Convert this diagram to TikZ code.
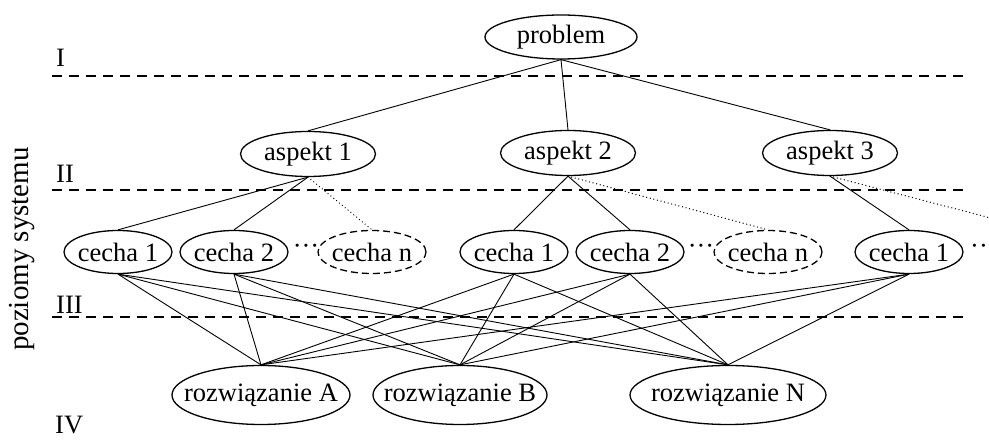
\documentclass[tikz,border=0pt]{standalone}
\usepackage{fontspec}
\setmainfont{Liberation Serif}
\usetikzlibrary{shapes.geometric}
\newcommand{\zb}[1]{\makebox[0pt]{#1}}
\tikzset{
  ell/.style={ellipse, draw, line width=1.3pt, inner sep=0pt, font=\fontsize{26.5}{31}\selectfont},
  dashell/.style={ell, dash pattern=on 7pt off 4pt},
  conn/.style={line width=0.9pt},
  dotconn/.style={line width=1.3pt, line cap=round, dash pattern=on 0.1pt off 3.6pt},
  levelline/.style={line width=1.2pt, dash pattern=on 10pt off 7pt},
  lvl/.style={anchor=west, inner sep=0pt, font=\fontsize{26.5}{31}\selectfont},
  dotsnode/.style={inner sep=0pt, font=\fontsize{26.5}{31}\selectfont},
}
\begin{document}
\begin{tikzpicture}[x=1pt,y=-1pt]
\useasboundingbox (0,0) rectangle (989,443);
\fill[white] (0,0) rectangle (989,443);
% level lines
\coordinate (l1a) at (52,76);  \coordinate (l1b) at (967,76);
\coordinate (l2a) at (52,190); \coordinate (l2b) at (967,190);
\coordinate (l3a) at (52,317); \coordinate (l3b) at (967,317);
\draw[levelline] (l1a) -- (l1b);
\draw[levelline] (l2a) -- (l2b);
\draw[levelline] (l3a) -- (l3b);
% level labels
\node[lvl] (lI) at (56,58) {I};
\node[lvl] (lII) at (56,174) {II};
\node[lvl] (lIII) at (56,305) {III};
\node[lvl] (lIV) at (55,425) {IV};
\node[inner sep=0pt, rotate=90, font=\fontsize{29}{34}\selectfont] (side) at (22,249) {poziomy systemu};
% nodes
\node[ell, minimum width=152pt, minimum height=44pt] (prob) at (561,37) {\zb{problem}};
\node[ell, minimum width=135pt, minimum height=45pt] (a1) at (308,154) {\zb{aspekt 1}};
\node[ell, minimum width=135pt, minimum height=45pt] (a2) at (568,153) {\zb{aspekt 2}};
\node[ell, minimum width=135pt, minimum height=45pt] (a3) at (830,153) {\zb{aspekt 3}};
\node[ell, minimum width=108pt, minimum height=43pt] (c11) at (118,252) {\zb{cecha 1}};
\node[ell, minimum width=108pt, minimum height=43pt] (c12) at (234,252) {\zb{cecha 2}};
\node[dotsnode] (d1) at (306,249) {···};
\node[dashell, minimum width=108pt, minimum height=43pt] (c1n) at (372,252) {\zb{cecha n}};
\node[ell, minimum width=108pt, minimum height=43pt] (c21) at (514,252) {\zb{cecha 1}};
\node[ell, minimum width=108pt, minimum height=43pt] (c22) at (630,252) {\zb{cecha 2}};
\node[dotsnode] (d2) at (701,249) {···};
\node[dashell, minimum width=108pt, minimum height=43pt] (c2n) at (768,252) {\zb{cecha n}};
\node[ell, minimum width=108pt, minimum height=43pt] (c31) at (909,252) {\zb{cecha 1}};
\node[dotsnode] (d3) at (979,249) {··};
\node[ell, minimum width=178pt, minimum height=59pt] (rA) at (261,395) {\zb{rozwiązanie A}};
\node[ell, minimum width=174pt, minimum height=59pt] (rB) at (460,395) {\zb{rozwiązanie B}};
\node[ell, minimum width=196pt, minimum height=59pt] (rN) at (728,395) {\zb{rozwiązanie N}};
\coordinate (offR) at (1010,223);
% connectors
\draw[conn] (prob.south) -- (a1.north);
\draw[conn] (prob.south) -- (a2.north);
\draw[conn] (prob.south) -- (a3.north);
\draw[conn] (a1.south) -- (c11.north);
\draw[conn] (a1.south) -- (c12.north);
\draw[dotconn] (a1.south) -- (c1n.north);
\draw[conn] (a2.south) -- (c21.north);
\draw[conn] (a2.south) -- (c22.north);
\draw[dotconn] (a2.south) -- (c2n.north);
\draw[conn] (a3.south) -- (c31.north);
\draw[dotconn] (a3.south) -- (offR);
\foreach \c in {c11,c12,c21,c22,c31}{
  \foreach \r in {rA,rB,rN}{
    \draw[conn] (\c.south) -- (\r.north);
  }
}
\end{tikzpicture}
\end{document}
